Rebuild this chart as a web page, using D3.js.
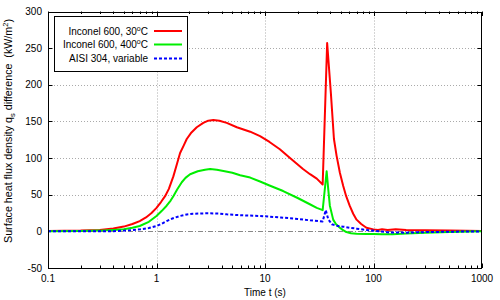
<!DOCTYPE html>
<html><head><meta charset="utf-8">
<script src="https://cdn.jsdelivr.net/npm/d3@7"></script>
<style>
body{margin:0;background:#fff;}
text{font-family:"Liberation Sans",Arial,Helvetica,sans-serif;font-size:10px;fill:#000;}
</style></head><body>
<svg id="c" width="500" height="300"></svg>
<script>
// ---- data ----
const tRed = [0.1,0.2,0.3,0.4,0.5,0.6,0.7,0.8,0.9,1.0,1.1,1.2,1.3,1.43,1.55,1.65,1.78,1.9,2.1,2.35,2.7,3.0,3.34,3.8,4.44,5.5,7.3,9,11,13.7,17,22.4,26,30,34,37.4,40.5,43.2,45.7,49,52.6,56,60.3,65,69.8,77,86,100,110,120,135,160,200,300,500,1000];
const qRed = [0.5,1,2,4,6.5,10,14,19,25,32,40,48,58,75,93,107,117,126,135,142,148,151,152,151,148,142,136,130,122,112,100,85,78,72,64,257,188,126,103,80,62,48,35,24,16,10,5,2.7,2,3,2,3,2,1.5,1,0.5];
const tGreen = [0.1,0.2,0.3,0.4,0.5,0.6,0.7,0.85,1.0,1.12,1.24,1.35,1.43,1.55,1.71,1.85,2.04,2.4,2.8,3.12,3.6,4.14,5.0,5.9,7.3,9,11,14.7,20,25.9,30,34,37,38.3,39.6,42.5,45,49,52,56.2,62,69.8,85,100,120,150,200,300,500,1000];
const qGreen = [0.3,0.6,1,2,3,5,7.3,13,21,28,35,42,48,57,67,73,78,82,84,85,84,82.5,80,76.6,73.4,68,62.6,55,45.5,37,32,29,82,57,35,16,10,5,2,-1,-2.5,-3.2,-3.5,-3.5,-4,-3.8,-3,-1.8,-0.8,0];
const tBlue = [0.1,0.2,0.3,0.4,0.5,0.6,0.7,0.85,1.0,1.12,1.24,1.4,1.65,1.9,2.17,2.6,3.12,3.8,4.44,6,9,14,20,26,34,36.3,38.3,41.4,46,52.6,60,69.8,80,92.6,114,140,200,300,500,1000];
const qBlue = [0,0,0,0.3,1,1.7,2.7,4.5,7.3,10.5,14,17.5,21,23,24,24.5,24.6,24.2,23.2,22,21,19,17,15,13.5,29,16.4,9.6,7.5,6.4,5,3.7,2.5,1.4,0,-1.5,-1.8,-1,-0.5,0];
const seriesNames = ["Inconel 600, 30", "Inconel 600, 400", "AISI 304, variable"];
const xTicks = [0.1,1,10,100,1000];
const xTickLabels = ["0.1","1","10","100","1000"];
const yTicks = [-50,0,50,100,150,200,250,300];

// ---- layout ----
const svg = d3.select("#c");
const L=48, R=482, T=11.5, B=268;
const x = d3.scaleLog().domain([0.1,1000]).range([L,R]);
const y = d3.scaleLinear().domain([-50,300]).range([B,T]);

// grid
const g = svg.append("g");
xTicks.slice(1,-1).forEach(v=>{
  g.append("line").attr("x1",Math.round(x(v))+0.5).attr("x2",Math.round(x(v))+0.5).attr("y1",T).attr("y2",B)
   .attr("stroke","#aaa").attr("stroke-width",1).attr("stroke-dasharray","1,2");
});
yTicks.slice(1,-1).forEach(v=>{
  if(v===0) return;
  g.append("line").attr("x1",L).attr("x2",R).attr("y1",Math.round(y(v))+0.5).attr("y2",Math.round(y(v))+0.5)
   .attr("stroke","#aaa").attr("stroke-width",1).attr("stroke-dasharray","1,2");
});
// zero axis dash-dot
g.append("line").attr("x1",L).attr("x2",R).attr("y1",Math.round(y(0))+0.5).attr("y2",Math.round(y(0))+0.5)
 .attr("stroke","#888").attr("stroke-width",1).attr("stroke-dasharray","5,2,1,2");

// ticks
const minor=[];
for(let d=0.1; d<1000; d*=10){ for(let k=2;k<=9;k++) minor.push(d*k); }
const tk = svg.append("g").attr("stroke","#000").attr("stroke-width",1);
minor.forEach(v=>{
  const px=Math.round(x(v))+0.5;
  tk.append("line").attr("x1",px).attr("x2",px).attr("y1",B).attr("y2",B-2.5);
  tk.append("line").attr("x1",px).attr("x2",px).attr("y1",T).attr("y2",T+2.5);
});
xTicks.forEach((v,i)=>{
  const px=Math.round(x(v))+0.5;
  tk.append("line").attr("x1",px).attr("x2",px).attr("y1",B).attr("y2",B-4.5);
  tk.append("line").attr("x1",px).attr("x2",px).attr("y1",T).attr("y2",T+4.5);
  svg.append("text").attr("x",x(v)).attr("y",282).attr("text-anchor","middle").text(xTickLabels[i]);
});
yTicks.forEach(v=>{
  const py=Math.round(y(v))+0.5;
  tk.append("line").attr("x1",L).attr("x2",L+4.5).attr("y1",py).attr("y2",py);
  tk.append("line").attr("x1",R).attr("x2",R-4.5).attr("y1",py).attr("y2",py);
  svg.append("text").attr("x",42).attr("y",y(v)+3.5).attr("text-anchor","end").text(v);
});

// series
const line = d3.line().x(d=>x(d[0])).y(d=>y(d[1])).curve(d3.curveLinear);
const series = [
  {t:tRed,q:qRed,color:"#ff0000",dash:null},
  {t:tGreen,q:qGreen,color:"#00ee00",dash:null},
  {t:tBlue,q:qBlue,color:"#0000ff",dash:"3,2"}
];
svg.append("clipPath").attr("id","pc").append("rect").attr("x",L).attr("y",T).attr("width",R-L).attr("height",B-T);
series.forEach(s=>{
  svg.append("path").attr("d",line(s.t.map((t,i)=>[t,s.q[i]])))
    .attr("fill","none").attr("stroke",s.color).attr("stroke-width",2)
    .attr("stroke-linejoin","round")
    .attr("stroke-dasharray",s.dash).attr("clip-path","url(#pc)");
});

// frame
svg.append("rect").attr("x",L+0.5).attr("y",Math.round(T)+0.5).attr("width",R-L-1).attr("height",B-Math.round(T))
  .attr("fill","none").attr("stroke","#000").attr("stroke-width",1);

// legend
const lg = svg.append("g");
lg.append("rect").attr("x",54.5).attr("y",16.5).attr("width",133).attr("height",55)
  .attr("fill","#fff").attr("stroke","#000").attr("stroke-width",1);
const rowsY=[31,44.5,58.5];
series.forEach((s,i)=>{
  const tx = lg.append("text").attr("x",148).attr("y",rowsY[i]+3.5).attr("text-anchor","end");
  if(i<2){
    tx.append("tspan").text(seriesNames[i]);
    tx.append("tspan").attr("dy",-4).attr("font-size","7px").text("o");
    tx.append("tspan").attr("dy",4).text("C");
  } else tx.text(seriesNames[i]);
  lg.append("line").attr("x1",154).attr("x2",182).attr("y1",rowsY[i]).attr("y2",rowsY[i])
    .attr("stroke",s.color).attr("stroke-width",2).attr("stroke-dasharray",s.dash);
});

// axis labels
svg.append("text").attr("x",265).attr("y",296).attr("text-anchor","middle").text("Time t (s)");
const yl = svg.append("text").attr("transform","translate(12,131) rotate(-90)").attr("text-anchor","middle").style("font-size","10.7px");
yl.append("tspan").text("Surface heat flux density q");
yl.append("tspan").attr("dy",2.5).attr("font-size","7.5px").text("s");
yl.append("tspan").attr("dy",-2.5).text(" difference \u00a0(kW/m");
yl.append("tspan").attr("dy",-4.5).attr("font-size","7.5px").text("2");
yl.append("tspan").attr("dy",4.5).text(")");
</script>
</body></html>
